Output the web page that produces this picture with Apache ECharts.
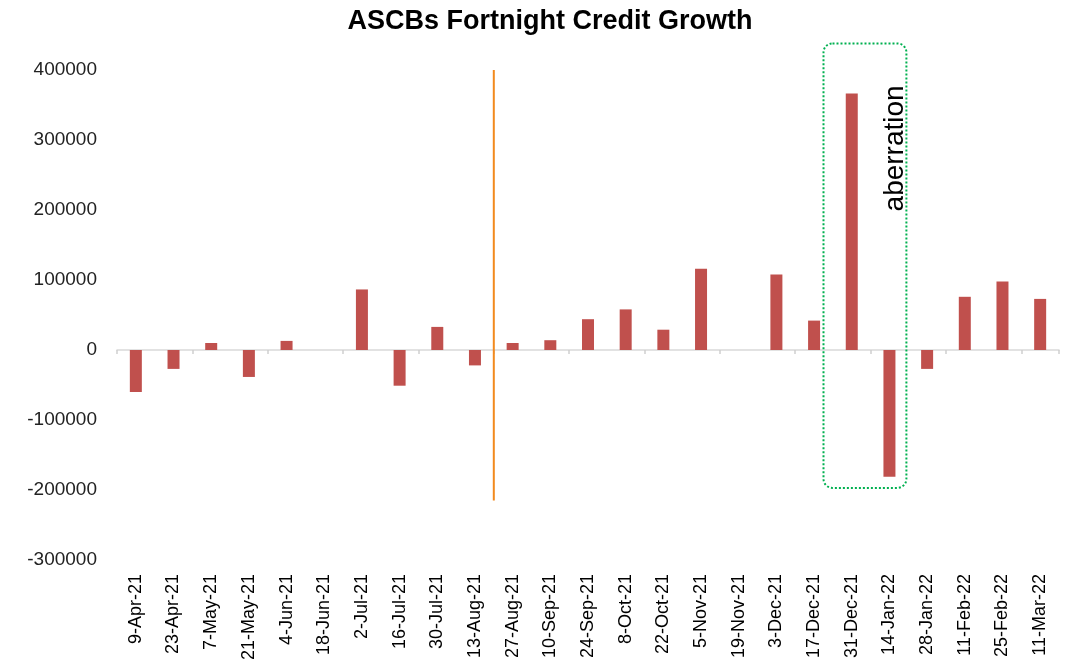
<!DOCTYPE html>
<html>
<head>
<meta charset="utf-8">
<script src="https://cdn.jsdelivr.net/npm/echarts@6/dist/echarts.min.js"></script>
<style>
  html, body { margin: 0; padding: 0; background: #fff; }
  #chart { width: 1068px; height: 668px; }
</style>
</head>
<body>
<div id="chart"></div>
<script>
// fortnight dates
const categories = [
  "9-Apr-21", "23-Apr-21", "7-May-21", "21-May-21", "4-Jun-21", "18-Jun-21",
  "2-Jul-21", "16-Jul-21", "30-Jul-21", "13-Aug-21", "27-Aug-21", "10-Sep-21",
  "24-Sep-21", "8-Oct-21", "22-Oct-21", "5-Nov-21", "19-Nov-21", "3-Dec-21",
  "17-Dec-21", "31-Dec-21", "14-Jan-22", "28-Jan-22", "11-Feb-22", "25-Feb-22",
  "11-Mar-22"
];
const creditGrowth = [
  -60000, -27000, 10000, -38500, 13000, 0,
  86500, -51000, 33000, -22000, 10000, 14000,
  44000, 58000, 29000, 116000, 0, 108000,
  42000, 366500, -181000, -27000, 76000, 98000,
  73000
];
const yTicks = { min: -300000, max: 400000, step: 100000 };

// annotations, in axis units (x = category slots from the left edge)
const splitLine = [[10, 400000], [10, -215000]];
const aberrationBox = [[18.75, 20.95, 438000, -197000]];
const aberrationText = { x: 20.65, y: 288000, text: "aberration" };

const chart = echarts.init(document.getElementById("chart"));

const option = {
  animation: false,
  title: {
    text: "ASCBs Fortnight Credit Growth",
    left: 545,
    top: 3,
    textAlign: "center",
    textStyle: { fontFamily: "Liberation Sans", fontSize: 27, fontWeight: "bold", color: "#000" }
  },
  grid: { left: 117, right: 9, top: 70, bottom: 108 },
  xAxis: [
    {
      type: "category",
      data: categories,
      axisLine: { onZero: true, lineStyle: { color: "#d9d9d9", width: 1.5 } },
      axisTick: { show: true, length: 4, lineStyle: { color: "#d0d0d0", width: 1.5 } },
      axisLabel: { show: false }
    },
    {
      type: "category",
      data: categories,
      position: "bottom",
      axisLine: { show: false, onZero: false },
      axisTick: { show: false },
      axisLabel: {
        rotate: 90,
        interval: 0,
        margin: 14,
        fontFamily: "Liberation Sans",
        fontSize: 18,
        color: "#000"
      }
    },
    { type: "value", min: 0, max: 25, show: false }
  ],
  yAxis: {
    type: "value",
    min: yTicks.min,
    max: yTicks.max,
    interval: yTicks.step,
    axisLine: { show: false },
    axisTick: { show: false },
    splitLine: { show: false },
    axisLabel: {
      margin: 20,
      fontFamily: "Liberation Sans",
      fontSize: 19,
      color: "#222",
      formatter: function (v) { return String(v); }
    }
  },
  series: [
    {
      name: "Credit Growth",
      type: "bar",
      xAxisIndex: 0,
      data: creditGrowth,
      barWidth: 12,
      itemStyle: { color: "#c0504d" }
    },
    {
      type: "line",
      xAxisIndex: 2,
      data: splitLine,
      symbol: "none",
      lineStyle: { color: "#f28a1e", width: 2 },
      silent: true
    },
    {
      type: "custom",
      xAxisIndex: 2,
      data: aberrationBox,
      silent: true,
      renderItem: function (params, api) {
        const p1 = api.coord([api.value(0), api.value(2)]);
        const p2 = api.coord([api.value(1), api.value(3)]);
        const t = api.coord([aberrationText.x, aberrationText.y]);
        return {
          type: "group",
          children: [
            {
              type: "rect",
              shape: { x: p1[0], y: p1[1], width: p2[0] - p1[0], height: p2[1] - p1[1], r: 9 },
              style: { fill: "none", stroke: "#00b050", lineWidth: 2, lineDash: [2, 2] }
            },
            {
              type: "text",
              x: t[0],
              y: t[1],
              rotation: Math.PI / 2,
              style: {
                text: aberrationText.text,
                fontFamily: "Liberation Sans",
                fontSize: 28,
                fill: "#000",
                align: "center",
                verticalAlign: "middle"
              }
            }
          ]
        };
      }
    }
  ]
};

chart.setOption(option);
</script>
</body>
</html>
